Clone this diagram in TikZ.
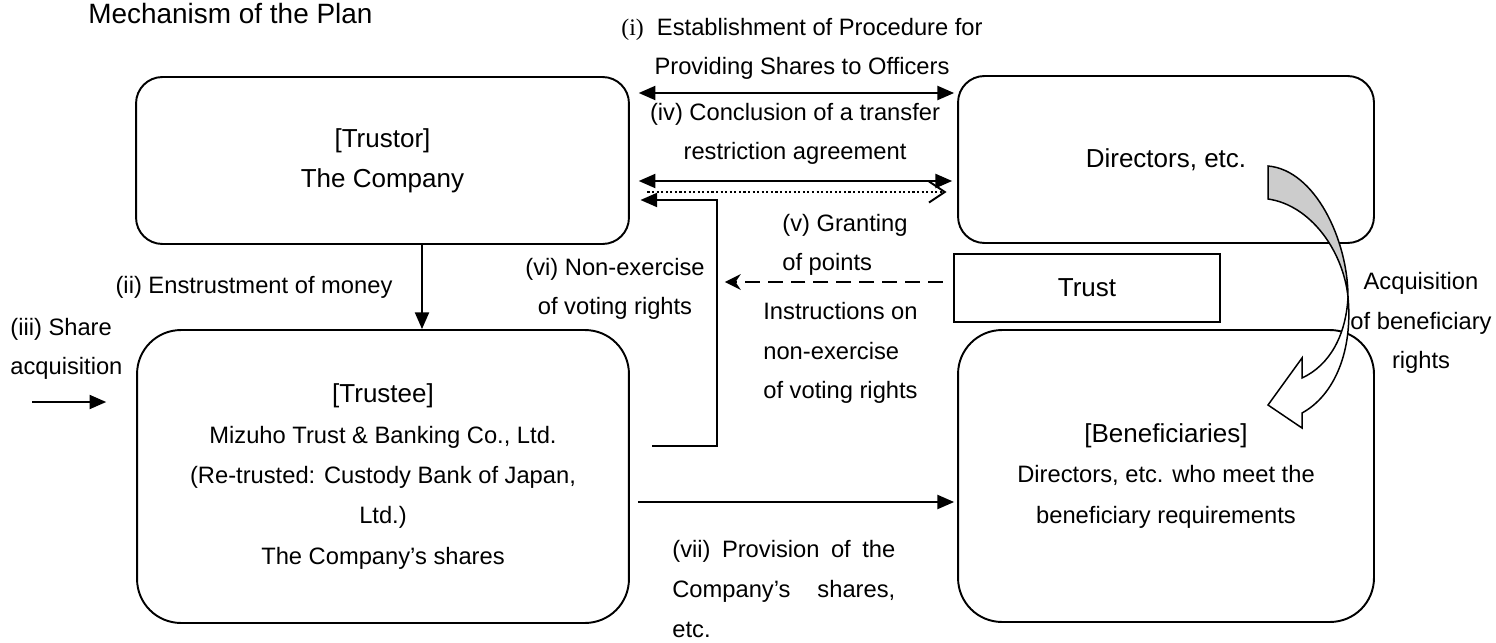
\documentclass[tikz,border=0pt]{standalone}
\usepackage{fontspec}
\setmainfont{Liberation Sans}
\newfontfamily\romanfont{Liberation Serif}
\usetikzlibrary{arrows.meta}
\newcommand\boxfont{\fontsize{14.8pt}{23pt}\selectfont}
\newcommand\notefont{\fontsize{13.5pt}{22.5pt}\selectfont}
\newcommand\planfont{\fontsize{15.9pt}{20pt}\selectfont}
\tikzset{>={Triangle[length=9.5pt,width=8pt]}}
\tikzset{
  party/.style={draw, line width=1.1pt, align=center, font=\boxfont},
  note/.style={font=\notefont, inner sep=0pt},
  link/.style={line width=1.1pt}
}

\begin{document}
\begin{tikzpicture}[x=0.02cm, y=-0.02cm]
\useasboundingbox (0,0) rectangle (1496,642);
\node[anchor=west, font=\planfont, inner sep=0pt] (title) at (88,14) {Mechanism of the Plan};
% the four parties and the trust
\node[party, rounded corners=15pt, minimum width=9.86cm, minimum height=3.34cm] (Trustor) at (382.5,160.5) {[Trustor]\\The Company};
\node[party, rounded corners=15pt, minimum width=8.32cm, minimum height=3.34cm] (Directors) at (1166,159.5) {Directors, etc.};
\node[party, rounded corners=25pt, minimum width=9.84cm, minimum height=5.86cm] (Trustee) at (383,476.5) {[Trustee]\\{\notefont Mizuho Trust \& Banking Co., Ltd.}\\{\notefont (Re-trusted: Custody Bank of Japan,}\\{\notefont Ltd.)}\\{\notefont The Company’s shares}};
\node[party, rounded corners=25pt, minimum width=8.32cm, minimum height=5.84cm] (Beneficiaries) at (1166,476) {[Beneficiaries]\\{\notefont Directors, etc. who meet the}\\{\notefont beneficiary requirements}};
\node[party, minimum width=5.32cm, minimum height=1.36cm] (Trust) at (1087,288) {Trust};
% free ends
\coordinate (buyin) at (32,402);
\coordinate (vistart) at (652,446);
\coordinate (vicorner) at (717,200);
\coordinate (vibar) at (717,282);
% connectors
\draw[link, <->, shorten <=5pt, shorten >=1.7pt] (Trustor.east |- 0,93) -- (Directors.west |- 0,93);
\draw[link, <->, shorten <=5pt, shorten >=2.8pt] (Trustor.east |- 0,181) -- (Directors.west |- 0,181);
\draw[link, dash pattern=on 1.2pt off 1.4pt, -{Straight Barb[length=9pt,width=12pt]}, shorten <=10pt, shorten >=6pt] (Trustor.east |- 0,192) -- (Directors.west |- 0,192);
\draw[link, ->, shorten >=6pt] (vistart) -| (vicorner) -- (Trustor.east |- vicorner);
\draw[link, dash pattern=on 8.5pt off 4.5pt, -{Stealth[length=9pt,width=9pt]}, shorten <=6pt, shorten >=4.5pt] (Trust.west |- vibar) -- (vibar);
\draw[link, ->] (Trustor.south -| 422,0) -- (Trustee.north -| 422,0);
\draw[link, ->, shorten >=17pt] (buyin) -- (Trustee.west |- buyin);
\draw[link, ->, shorten <=4.5pt, shorten >=1.7pt] (Trustee.east |- 0,502) -- (Beneficiaries.west |- 0,502);
% acquisition of beneficiary rights
\filldraw[fill=gray!40, line width=0.85pt] (1268,166) .. controls (1315,170) and (1348,240) .. (1348,297)
  .. controls (1343,250) and (1310,205) .. (1268,199) -- cycle;
\filldraw[fill=white, line width=0.85pt] (1348,297) .. controls (1346,335) and (1330,365) .. (1302,378)
  -- (1302,358) -- (1268,405) -- (1302,428) -- (1302,413)
  .. controls (1335,395) and (1353,350) .. (1348,297) -- cycle;
% labels
\node[note, align=center] (lbli) at (802,49) {{\romanfont (i)}\ \ Establishment of Procedure for\\Providing Shares to Officers};
\node[note, align=center] (lbliv) at (795,134) {(iv) Conclusion of a transfer\\restriction agreement};
\node[note, anchor=west, align=left] (lblv) at (782,245) {(v) Granting\\of points};
\node[note, align=center] (lblvi) at (615,289) {(vi) Non-exercise\\of voting rights};
\node[note, anchor=west, align=left] (lblinst) at (763,353) {Instructions on\\non-exercise\\of voting rights};
\node[note] (lblii) at (254,287) {(ii) Enstrustment of money};
\node[note, anchor=west, align=left] (lbliii) at (10,349) {(iii) Share\\acquisition};
\node[note, anchor=west, text width=4.46cm, align=left] (lblvii) at (672,589) {(vii)\hfill Provision\hfill of\hfill the\\Company’s\hfill shares,\\etc.};
\node[note, align=center] (lblacq) at (1421,323) {Acquisition\\of beneficiary\\rights};
\end{tikzpicture}
\end{document}
